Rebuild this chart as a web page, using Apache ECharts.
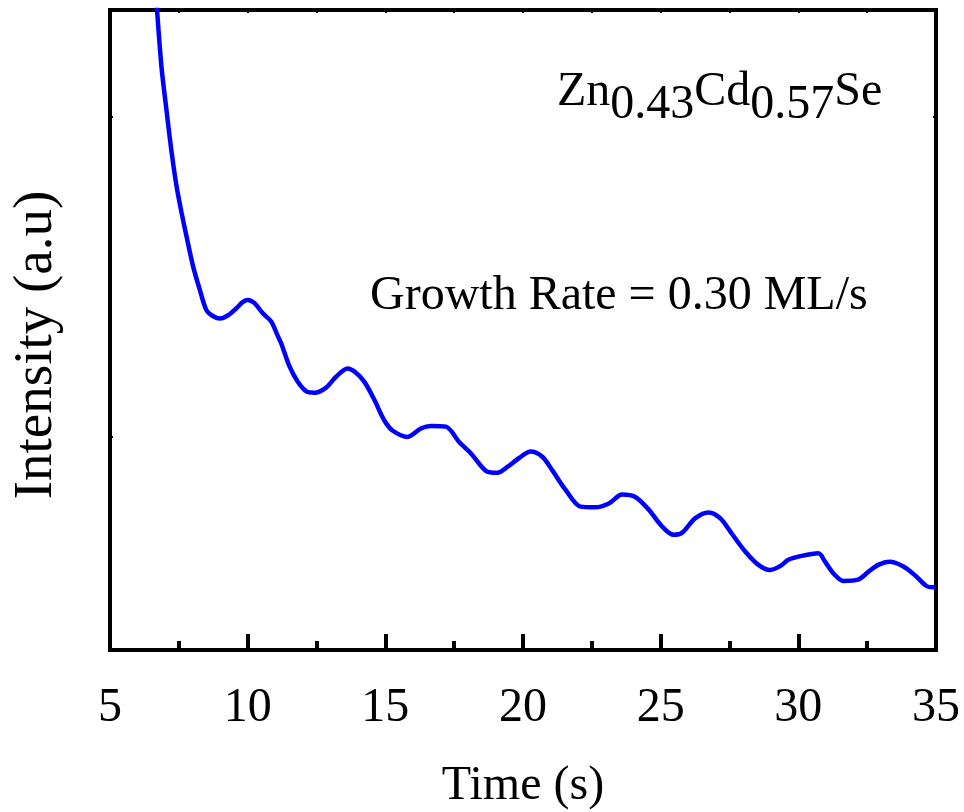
<!DOCTYPE html>
<html>
<head>
<meta charset="utf-8">
<script src="https://cdn.jsdelivr.net/npm/echarts@6/dist/echarts.min.js"></script>
<style>
  html, body { margin: 0; padding: 0; background: #fff; }
  #chart { width: 964px; height: 812px; }
</style>
</head>
<body>
<div id="chart"></div>
<script>
  // time (s) and intensity (a.u, arbitrary 0-100 scale)
  var timeData = [6.65, 6.71, 6.87, 7.05, 7.24, 7.42, 7.60, 7.78, 8.02, 8.26, 8.50, 8.69, 8.99,
    9.29, 9.59, 9.83, 10.01, 10.25, 10.55, 10.86, 11.10, 11.22, 11.52, 11.82, 12.13, 12.43,
    12.85, 13.21, 13.63, 13.88, 14.24, 14.60, 14.96, 15.26, 15.81, 16.29, 16.66, 17.20,
    17.68, 18.11, 18.65, 19.07, 19.43, 19.86, 20.28, 20.70, 21.06, 21.55, 22.09, 22.63,
    23.12, 23.60, 24.08, 24.57, 25.05, 25.47, 25.77, 26.26, 26.74, 27.16, 27.58, 28.07,
    28.55, 28.98, 29.34, 29.64, 30.12, 30.73, 30.97, 31.27, 31.63, 32.17, 32.54, 32.90,
    33.32, 33.80, 34.23, 34.65, 34.89, 35.0];
  var intensityData = [104, 99.9, 91.1, 84.4, 77.7, 72.4, 68.3, 64.6, 59.9, 56.3, 53.1, 52.3, 51.8,
    52.3, 53.4, 54.4, 54.7, 54.2, 52.6, 51.3, 49.0, 47.9, 44.3, 41.9, 40.4, 40.2,
    41.0, 42.7, 44.0, 43.5, 41.9, 39.1, 35.9, 34.3, 33.3, 34.6, 35.0, 34.9,
    32.5, 30.7, 28.0, 27.7, 28.6, 30.0, 31.0, 30.2, 28.1, 25.0, 22.4, 22.3,
    22.9, 24.3, 23.9, 21.9, 19.3, 18.0, 18.3, 20.6, 21.5, 20.6, 18.2, 15.4,
    13.3, 12.5, 13.1, 14.1, 14.7, 15.1, 13.8, 12.0, 10.8, 11.0, 12.2, 13.3,
    13.8, 13.1, 11.7, 10.0, 9.8, 9.8];
  var yTickValues = [33.3, 83.3];
  var yTickValuesRight = [83.3];

  var font = '"Liberation Serif", "Times New Roman", serif';

  var chart = echarts.init(document.getElementById('chart'));

  var seriesData = timeData.map(function (t, i) {
    return [t, intensityData[i]];
  });

  var axisLine = {
    show: true,
    onZero: false,
    lineStyle: { color: '#000', width: 4, cap: 'square' }
  };

  var option = {
    backgroundColor: '#fff',
    animation: false,
    grid: { left: 110, right: 28, top: 10, bottom: 162, outerBoundsMode: 'none', containLabel: false },
    xAxis: [{
      type: 'value',
      min: 5,
      max: 35,
      interval: 5,
      name: 'Time (s)',
      nameLocation: 'middle',
      nameGap: 112,
      nameTextStyle: { fontFamily: font, fontSize: 48, color: '#000' },
      axisLine: axisLine,
      axisTick: { show: true, inside: true, length: 16, lineStyle: { color: '#000', width: 4 } },
      minorTick: { show: true, splitNumber: 2, length: 9, lineStyle: { color: '#000', width: 4 } },
      axisLabel: { fontFamily: font, fontSize: 48, color: '#000', margin: 34 },
      splitLine: { show: false }
    }, {
      type: 'value',
      position: 'top',
      min: 5,
      max: 35,
      interval: 5,
      axisLine: axisLine,
      axisTick: { show: true, inside: true, length: 3, lineStyle: { color: '#000', width: 2 } },
      minorTick: { show: true, splitNumber: 2, length: 3, lineStyle: { color: '#000', width: 2 } },
      axisLabel: { show: false },
      splitLine: { show: false }
    }],
    yAxis: [{
      type: 'value',
      min: 0,
      max: 100,
      name: 'Intensity (a.u)',
      nameLocation: 'middle',
      nameGap: 46,
      nameTextStyle: { fontFamily: font, fontSize: 55, color: '#000', padding: [0, 30, 0, 0] },
      axisLine: axisLine,
      axisTick: { show: true, inside: true, length: 3, customValues: yTickValues, lineStyle: { color: '#000', width: 2 } },
      axisLabel: { show: false },
      splitLine: { show: false }
    }, {
      type: 'value',
      position: 'right',
      min: 0,
      max: 100,
      axisLine: axisLine,
      axisTick: { show: true, inside: true, length: 3, customValues: yTickValuesRight, lineStyle: { color: '#000', width: 2 } },
      axisLabel: { show: false },
      splitLine: { show: false }
    }],
    graphic: [{
      type: 'text',
      left: 557,
      top: 68,
      style: {
        text: '{a|Zn}{b|0.43}{a|Cd}{b|0.57}{a|Se}',
        rich: {
          a: { fontFamily: font, fontSize: 48, fill: '#000', verticalAlign: 'top', lineHeight: 48 },
          b: { fontFamily: font, fontSize: 48, fill: '#000', verticalAlign: 'top', lineHeight: 48, padding: [13, 0, 0, 0] }
        }
      }
    }, {
      type: 'text',
      left: 370,
      top: 272,
      style: {
        text: 'Growth Rate = 0.30 ML/s',
        fontFamily: font,
        fontSize: 48,
        fill: '#000'
      }
    }],
    series: [{
      type: 'line',
      data: seriesData,
      showSymbol: false,
      smooth: 0.3,
      clip: true,
      lineStyle: { color: '#0000ff', width: 4.5 }
    }]
  };

  chart.setOption(option);
</script>
</body>
</html>
